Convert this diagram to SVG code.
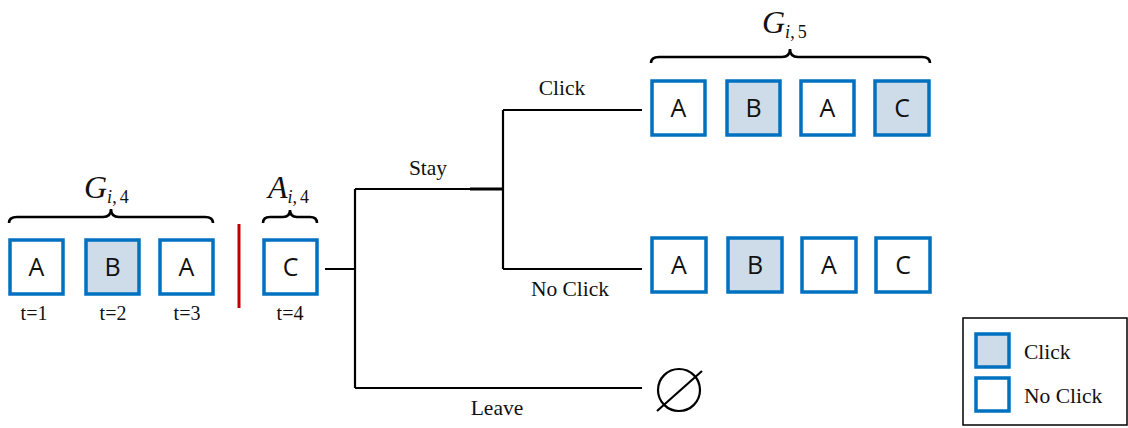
<svg xmlns="http://www.w3.org/2000/svg" width="1128" height="428" viewBox="0 0 1128 428">
<style>
.box{stroke:#0070C0;stroke-width:3.5;fill:#fff}
.clk{fill:#CDDCE8}
.lt{font-family:"Open Sans","Liberation Sans",sans-serif;font-size:25px;text-anchor:middle;fill:#111}
.lbl{font-family:"Liberation Serif",serif;font-size:21.5px;fill:#111}
.tl{font-family:"Liberation Serif",serif;font-size:20px;fill:#111;text-anchor:middle}
.mid{text-anchor:middle}
.wire{stroke:#000;stroke-width:2.2;fill:none}
.brace{stroke:#000;stroke-width:2.6;fill:none}
.math{font-family:"Liberation Serif",serif;font-style:italic;fill:#111;font-size:32px}
.sub{font-size:18px}
</style>
<rect width="1128" height="428" fill="#fff"/>
<g id="history">
  <g id="h1"><rect class="box" x="10" y="240" width="53" height="54"/><text class="lt" x="36.5" y="276">A</text><text class="tl" x="34" y="320">t=1</text></g>
  <g id="h2"><rect class="box clk" x="86" y="240" width="53" height="54"/><text class="lt" x="112.5" y="276">B</text><text class="tl" x="113" y="320">t=2</text></g>
  <g id="h3"><rect class="box" x="160" y="240" width="53" height="54"/><text class="lt" x="186.5" y="276">A</text><text class="tl" x="187" y="320">t=3</text></g>
  <path class="brace" d="M9,223 Q9,217 17,217 L103,217 Q111,217 111,209 Q111,217 119,217 L205,217 Q213,217 213,223"/>
  <text class="math" x="84" y="198">G<tspan class="sub" dy="5">i</tspan><tspan class="sub" font-style="normal">,</tspan><tspan class="sub" font-style="normal" dx="3">4</tspan></text>
</g>
<line id="divider" x1="239" y1="224" x2="239" y2="308" stroke="#C00000" stroke-width="3"/>
<g id="action">
  <rect class="box" x="264" y="240" width="53" height="54"/><text class="lt" x="290.5" y="276">C</text><text class="tl" x="290" y="320">t=4</text>
  <path class="brace" d="M263,223 Q263,217 270,217 L283,217 Q290,217 290,210 Q290,217 297,217 L310,217 Q317,217 317,223"/>
  <text class="math" x="268" y="198">A<tspan class="sub" dy="5">i</tspan><tspan class="sub" font-style="normal">,</tspan><tspan class="sub" font-style="normal" dx="3">4</tspan></text>
</g>
<g id="connectors">
  <path class="wire" d="M325,269 H355 M355,189 V388 M355,189 H503 M503,110 V269 M503,110 H642 M503,269 H642 M355,388 H642"/>
  <line x1="470" y1="189" x2="503" y2="189" stroke="#000" stroke-width="3"/>
  <text class="lbl mid" x="428" y="175">Stay</text>
  <text class="lbl mid" x="562" y="95">Click</text>
  <text class="lbl mid" x="570" y="296">No Click</text>
  <text class="lbl mid" x="497" y="415">Leave</text>
</g>
<g id="click-outcome">
  <rect class="box" x="652" y="81" width="53" height="54"/><text class="lt" x="678.5" y="117">A</text>
  <rect class="box clk" x="727" y="81" width="53" height="54"/><text class="lt" x="753.5" y="117">B</text>
  <rect class="box" x="801" y="81" width="53" height="54"/><text class="lt" x="827.5" y="117">A</text>
  <rect class="box clk" x="875" y="81" width="54" height="54"/><text class="lt" x="902" y="117">C</text>
  <path class="brace" d="M651,63 Q651,57 659,57 L782,57 Q790,57 790,49 Q790,57 798,57 L922,57 Q930,57 930,63"/>
  <text class="math" x="762" y="33">G<tspan class="sub" dy="5">i</tspan><tspan class="sub" font-style="normal">,</tspan><tspan class="sub" font-style="normal" dx="3">5</tspan></text>
</g>
<g id="noclick-outcome">
  <rect class="box" x="652" y="238" width="54" height="54"/><text class="lt" x="679" y="274">A</text>
  <rect class="box clk" x="728" y="238" width="54" height="54"/><text class="lt" x="755" y="274">B</text>
  <rect class="box" x="802" y="238" width="54" height="54"/><text class="lt" x="829" y="274">A</text>
  <rect class="box" x="876" y="238" width="54" height="54"/><text class="lt" x="903" y="274">C</text>
</g>
<g id="leave-outcome">
  <circle cx="679" cy="390" r="21" stroke="#000" stroke-width="2.2" fill="none"/>
  <line x1="657" y1="411" x2="702" y2="371" stroke="#000" stroke-width="2.2"/>
</g>
<g id="legend">
  <rect x="963" y="318" width="164" height="107" fill="#fff" stroke="#000" stroke-width="1.5"/>
  <rect class="box clk" x="976" y="334" width="33" height="33"/>
  <text class="lbl" x="1024" y="359">Click</text>
  <rect class="box" x="976" y="378" width="33" height="33"/>
  <text class="lbl" x="1024" y="403">No Click</text>
</g>
</svg>
